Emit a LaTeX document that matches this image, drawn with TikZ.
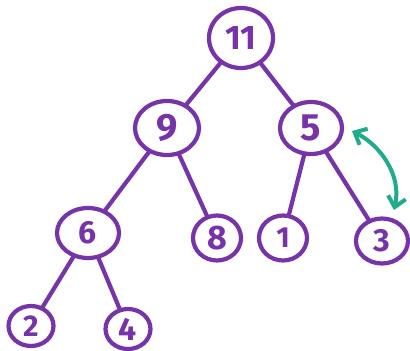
\documentclass[tikz,border=0pt]{standalone}
\usepackage{fontspec}
\setmainfont{Fira Sans}
\usetikzlibrary{shapes.geometric,arrows.meta}
\definecolor{marker}{RGB}{118,52,168}
\definecolor{swapink}{RGB}{32,172,140}
\newcommand{\digitsize}[1]{\fontsize{#1}{#1}\selectfont\bfseries}
\tikzset{
  key/.style={ellipse, draw=marker, line width=4.2pt, text=marker, inner sep=0pt,
    font=\digitsize{32}},
  branch/.style={draw=marker, line width=4.2pt, line cap=round, shorten <=-1pt, shorten >=-1pt},
  swap/.style={draw=swapink, line width=4pt, line cap=round,
    {Straight Barb[length=10pt,width=18pt,line width=4pt]}-{Straight Barb[length=10pt,width=18pt,line width=4pt]}}
}
\begin{document}
\begin{tikzpicture}[x=1pt,y=-1pt]
  \fill[white] (0,0) rectangle (410,351);
  \useasboundingbox (0,0) rectangle (410,351);
  % heap nodes
  \node[key, minimum width=64pt, minimum height=60pt, font=\digitsize{34}] (n11) at (241,38) {11};
  \node[key, minimum width=64pt, minimum height=54pt, font=\digitsize{38}] (n9) at (167,128) {9};
  \node[key, minimum width=62pt, minimum height=52pt, font=\digitsize{38}] (n5) at (311,128) {5};
  \node[key, minimum width=62pt, minimum height=50pt] (n6) at (88,233) {6};
  \node[key, minimum width=48pt, minimum height=45pt, font=\digitsize{34}] (n8) at (217,238) {8};
  \node[key, minimum width=48pt, minimum height=45pt, font=\digitsize{29}] (n1) at (283,238) {1};
  \node[key, minimum width=52pt, minimum height=45pt] (n3) at (382,241) {3};
  \node[key, minimum width=45pt, minimum height=40pt, font=\digitsize{30}] (n2) at (31,326) {2};
  \node[key, minimum width=45pt, minimum height=40pt, font=\digitsize{32}] (n4) at (128,329) {4};
  % tree edges
  \draw[branch] (n11) -- (n9);
  \draw[branch] (n11) -- (n5);
  \draw[branch] (n9) -- (n6);
  \draw[branch] (n9) -- (n8);
  \draw[branch] (n5) -- (n1);
  \draw[branch] (n5) -- (n3);
  \draw[branch] (n6) -- (n2);
  \draw[branch] (n6) -- (n4);
  % swap indicator between 5 and 3
  \coordinate (sa) at (352,131);
  \coordinate (sb) at (394,210);
  \draw[swap] (sa) .. controls (380,145) and (402,175) .. (sb);
\end{tikzpicture}
\end{document}
